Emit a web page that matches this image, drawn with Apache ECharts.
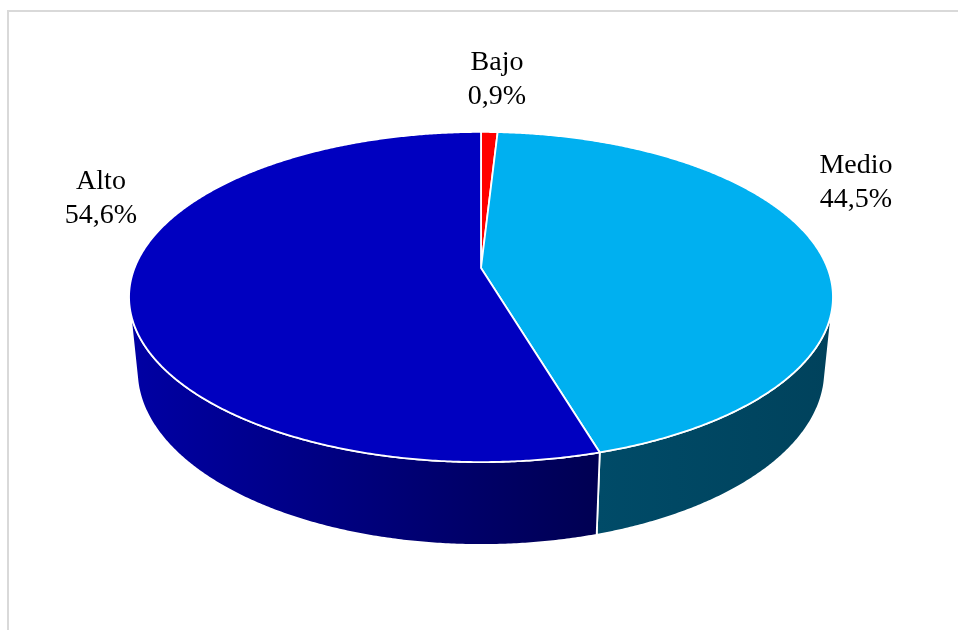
<!DOCTYPE html>
<html>
<head>
<meta charset="utf-8">
<script src="https://cdn.jsdelivr.net/npm/echarts@6/dist/echarts.min.js"></script>
<style>
  html, body { margin: 0; padding: 0; background: #ffffff; }
  #chart { width: 958px; height: 630px; }
</style>
</head>
<body>
<div id="chart"></div>
<script>
// Nivel de riesgo: participación porcentual por categoría
const categories = ['Bajo', 'Medio', 'Alto'];
const shares = [0.9, 44.5, 54.6];

// Colores de la cara superior y del canto (degradado izquierda -> derecha)
const topColors = ['#ff0000', '#00b0f0', '#0000c0'];
const sideColors = [['#c00000', '#a00000'], ['#004b68', '#00425c'], ['#0000a4', '#000052']];

// Posición de las etiquetas (centro del bloque de texto)
const labelAnchors = { Bajo: [497, 80], Medio: [856, 183], Alto: [101, 199] };

// Parámetros de la vista en perspectiva del disco
const view = {
  cx: 481, cy: 268,      // centro proyectado del disco
  k: 1749,               // distancia focal
  R: 0.1981,             // radio del disco (unidades de cámara)
  tilt: 27.5 * Math.PI / 180,
  depth: 0.048           // grosor del disco
};

const total = shares.reduce((a, b) => a + b, 0);

function sliceAngles(i) {
  let before = 0;
  for (let j = 0; j < i; j++) before += shares[j];
  const a0 = before / total * Math.PI * 2;
  const a1 = (before + shares[i]) / total * Math.PI * 2;
  return [a0, a1];
}

// Ángulo 0 = arriba (posterior), sentido horario
function project(theta, r, t) {
  const s = Math.sin(view.tilt), c = Math.cos(view.tilt);
  const x = r * view.R * Math.sin(theta);
  const z = -r * view.R * Math.cos(theta);
  const w = 1 - z * c + t * s;
  return [view.cx + view.k * x / w, view.cy + view.k * (z * s + t * c) / w];
}

function arc(a, b, t) {
  const n = Math.max(2, Math.ceil(Math.abs(b - a) / (0.4 * Math.PI / 180)));
  const pts = [];
  for (let i = 0; i <= n; i++) pts.push(project(a + (b - a) * i / n, 1, t));
  return pts;
}

// Tramo visible del canto (silueta del cilindro)
const silhouette = Math.acos(-view.R / Math.cos(view.tilt));
const sideFrom = silhouette, sideTo = Math.PI * 2 - silhouette;

function fmtPct(v) { return v.toFixed(1).replace('.', ',') + '%'; }

const seriesData = categories.map((name, i) => ({ name, value: shares[i] }));

function renderSide(params) {
  const i = params.dataIndex;
  const [a0, a1] = sliceAngles(i);
  const lo = Math.max(a0, sideFrom), hi = Math.min(a1, sideTo);
  if (lo >= hi) return null;
  const pts = arc(lo, hi, 0).concat(arc(hi, lo, view.depth));
  let minX = Infinity, maxX = -Infinity;
  pts.forEach(p => { minX = Math.min(minX, p[0]); maxX = Math.max(maxX, p[0]); });
  return {
    type: 'polygon',
    shape: { points: pts },
    style: {
      fill: new echarts.graphic.LinearGradient(minX, 0, maxX, 0, [
        { offset: 0, color: sideColors[i][0] },
        { offset: 1, color: sideColors[i][1] }
      ], true),
      stroke: '#ffffff',
      lineWidth: 1.8
    }
  };
}

function renderTop(params) {
  const i = params.dataIndex;
  const [a0, a1] = sliceAngles(i);
  const pts = [project(0, 0, 0)].concat(arc(a0, a1, 0));
  const anchor = labelAnchors[categories[i]];
  return {
    type: 'group',
    children: [
      {
        type: 'polygon',
        shape: { points: pts },
        style: { fill: topColors[i], stroke: '#ffffff', lineWidth: 1.8 }
      },
      {
        type: 'text',
        x: anchor[0], y: anchor[1],
        style: {
          text: categories[i] + '\n' + fmtPct(shares[i]),
          font: '28px "Liberation Serif", "Times New Roman", serif',
          fill: '#000000',
          align: 'center',
          verticalAlign: 'middle',
          lineHeight: 34
        }
      }
    ]
  };
}

const chart = echarts.init(document.getElementById('chart'), null, { renderer: 'canvas' });
chart.setOption({
  animation: false,
  backgroundColor: '#ffffff',
  graphic: [{
    type: 'rect',
    silent: true,
    shape: { x: 8, y: 11, width: 1200, height: 1000 },
    style: { fill: 'none', stroke: '#d9d9d9', lineWidth: 2 },
    z: -10
  }],
  series: [
    { type: 'custom', coordinateSystem: 'none', renderItem: renderSide, data: seriesData, z: 1 },
    { type: 'custom', coordinateSystem: 'none', renderItem: renderTop, data: seriesData, z: 2 }
  ]
});
</script>
</body>
</html>
